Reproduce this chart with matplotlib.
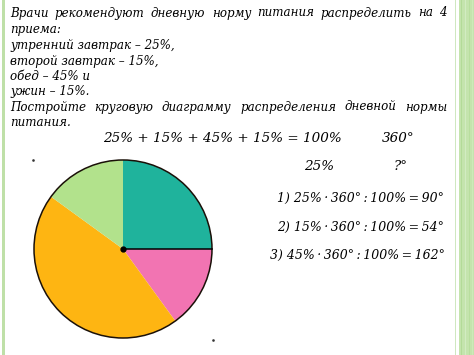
import matplotlib.pyplot as plt
from matplotlib.patches import Rectangle, Circle

W, H = 474, 355

# paragraph lines (justified flag)
para = [
    ("Врачи рекомендуют дневную норму питания распределить на 4", True),
    ("приема:", False),
    ("утренний завтрак – 25%,", False),
    ("второй завтрак – 15%,", False),
    ("обед – 45% и", False),
    ("ужин – 15%.", False),
    ("Постройте круговую диаграмму распределения дневной нормы", True),
    ("питания.", False),
]
para_y = [13, 29, 45, 61, 76, 92, 107, 123]

meals = ["завтрак", "второй завтрак", "обед", "ужин"]
shares = [25, 15, 45, 15]
colors = ["#1fb39c", "#f274b2", "#feb512", "#b2e28c"]

# text, left x, y, size
T = "\u2009"
eqs = [
    ("25% + 15% + 45% + 15% = 100%", 103, 138, 9.7),
    ("360°", 382, 138, 9.7),
    ("25%", 304, 167, 9.7),
    ("?°", 394, 167, 9.7),
    (f"1) 25%{T}·{T}360°{T}:{T}100%{T}={T}90°", 277, 198, 9.0),
    (f"2) 15%{T}·{T}360°{T}:{T}100%{T}={T}54°", 277, 227, 9.0),
    (f"3) 45%{T}·{T}360°{T}:{T}100%{T}={T}162°", 270, 255, 9.0),
]

fig = plt.figure(figsize=(W / 100, H / 100), dpi=100)
ax = fig.add_axes([0, 0, 1, 1])

cx, cy, r = 123, H - 249, 89
ax.pie(shares, colors=colors, startangle=90, counterclock=False,
       center=(cx, cy), radius=r, wedgeprops=dict(linewidth=0))
ax.add_patch(Circle((cx, cy), r, fill=False, ec="#1a1008", lw=1.1, zorder=3))
ax.plot([cx, cx + r], [cy, cy], color="black", lw=1.1, zorder=3)
ax.plot(cx, cy, "o", color="black", ms=3.5, zorder=4)
ax.plot([33, 213], [H - 160, H - 340], "s", color="#333333", ms=0.8)

ax.set_xlim(0, W)
ax.set_ylim(0, H)
ax.set_aspect("auto")
ax.axis("off")

# side decorations
ax.add_patch(Rectangle((2, 0), 3, H, color="#bfe0a8", lw=0))
ax.add_patch(Rectangle((455, 0), 1.5, H, color="#cfe8c0", lw=0))
ax.add_patch(Rectangle((459, 0), 15, H, color="#c4e4ad", lw=0))
for xs, c in [(461, "#b3db98"), (465, "#d2ecc2"), (469, "#b8de9e"), (472, "#cde9ba")]:
    ax.add_patch(Rectangle((xs, 0), 1.5, H, color=c, lw=0))

fig.canvas.draw()
rend = fig.canvas.get_renderer()
tf = dict(family="DejaVu Serif", style="italic", fontsize=8.6, color="black")
x0, x1 = 10, 447
for (line, just), y in zip(para, para_y):
    if not just:
        ax.text(x0, H - y, line, va="center", ha="left", **tf)
        continue
    words = line.split()
    ts = [ax.text(0, H - y, w, va="center", ha="left", **tf) for w in words]
    ws = [t.get_window_extent(rend).width for t in ts]
    gap = (x1 - x0 - sum(ws)) / (len(ws) - 1)
    x = x0
    for t, w in zip(ts, ws):
        t.set_x(x)
        x += w + gap

for s, xl, y, fs in eqs:
    ax.text(xl, H - y, s, va="center", ha="left", family="DejaVu Serif",
            style="italic", color="black", fontsize=fs)

fig.savefig("out.png", dpi=100)
